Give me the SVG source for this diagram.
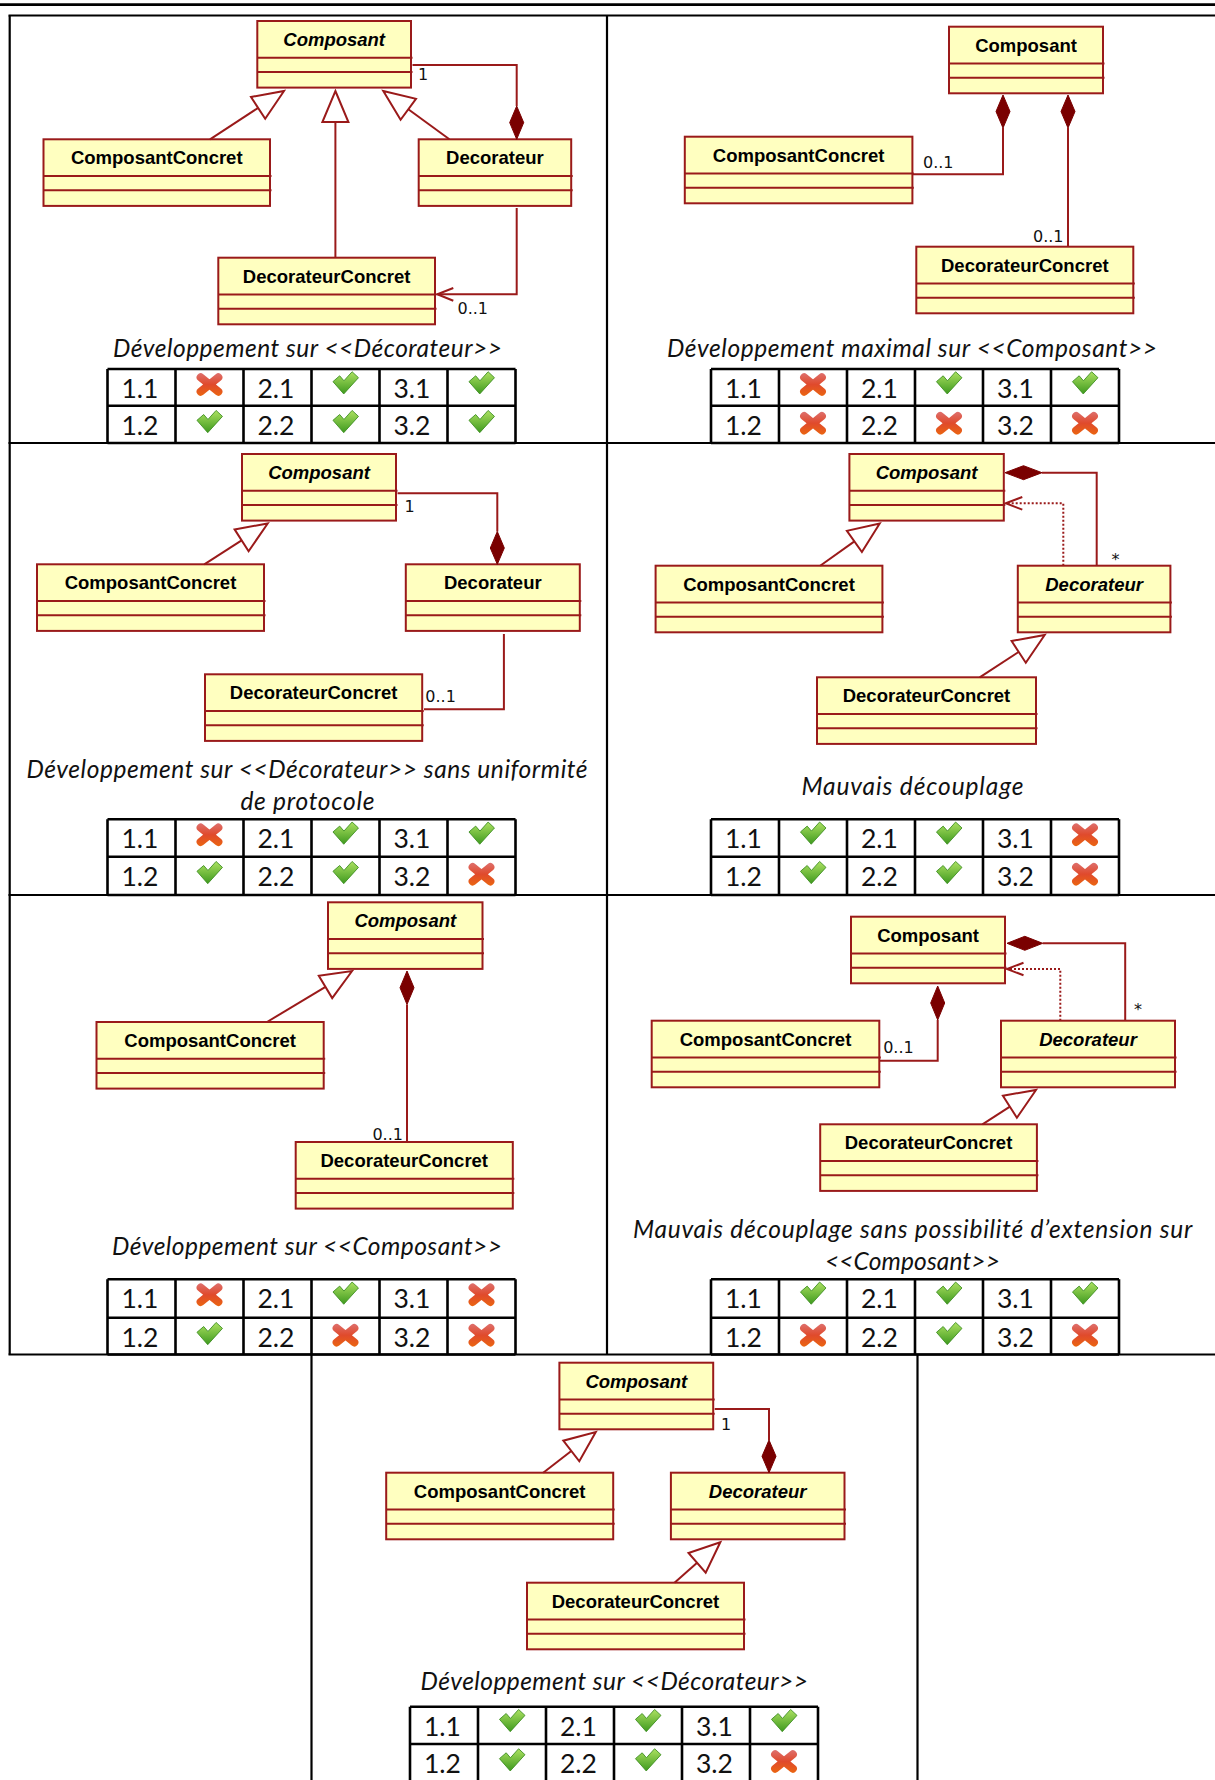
<svg xmlns="http://www.w3.org/2000/svg" width="1215" height="1780" viewBox="0 0 1215 1780">
<style>
.box{fill:#FFFFC0;stroke:#9A1A1A;stroke-width:2}
.sep{stroke:#9A1A1A;stroke-width:2}
.name{font-family:"Liberation Sans",Arial,sans-serif;font-weight:bold;font-size:18.5px;text-anchor:middle;fill:#000}
.abs{font-style:italic}
.conn{fill:none;stroke:#9A1A1A;stroke-width:2}
.tri{fill:#FFFFFF;stroke:#9A1A1A;stroke-width:2;stroke-linejoin:miter}
.dia{fill:#7A0000;stroke:#7A0000;stroke-width:1}
.dep{fill:none;stroke:#9A1A1A;stroke-width:2;stroke-dasharray:2 2}
.mult{font-family:"DejaVu Sans",sans-serif;font-size:16px;fill:#111}
.cap{font-family:Lato,"Open Sans",sans-serif;font-style:italic;font-size:24.5px;text-anchor:middle;fill:#111}
.grid{stroke:#000;stroke-width:2.2;fill:none}
.mt{stroke:#000;stroke-width:2.6;fill:none}
.num{font-family:Lato,"Open Sans",sans-serif;font-size:26.5px;fill:#111}
</style>
<defs>
<linearGradient id="gCheck" x1="0" y1="-11" x2="0" y2="9" gradientUnits="userSpaceOnUse"><stop offset="0" stop-color="#A9DF5F"/><stop offset="1" stop-color="#3C981D"/></linearGradient>
<linearGradient id="gCross" x1="0" y1="-10" x2="0" y2="10" gradientUnits="userSpaceOnUse"><stop offset="0" stop-color="#DE6E6A"/><stop offset="0.5" stop-color="#E04A2C"/><stop offset="1" stop-color="#EA6412"/></linearGradient>
<g id="ok"><polygon transform="scale(1.1)" points="-11.4,-2.6 -5.3,-7.9 -1.4,-3.4 6,-11.6 11.8,-6.2 -1.6,8.6" fill="url(#gCheck)" stroke="#3E8E22" stroke-width="0.8" stroke-linejoin="round"/></g>
<g id="ko"><path transform="scale(1.1)" d="M-8,-6.5 L8,6.5 M8,-6.5 L-8,6.5" fill="none" stroke="url(#gCross)" stroke-width="7.4" stroke-linecap="round"/></g>
</defs>
<rect width="1215" height="1780" fill="#FFFFFF"/>

<g id="page-grid" class="grid">
<line x1="0" y1="4.7" x2="1215" y2="4.7" stroke-width="2.7"/>
<line x1="8.5" y1="15.5" x2="1215" y2="15.5"/>
<line x1="9.7" y1="15.5" x2="9.7" y2="1354.5"/>
<line x1="607" y1="15.5" x2="607" y2="1354.5"/>
<line x1="8.5" y1="443" x2="1215" y2="443"/>
<line x1="8.5" y1="895" x2="1215" y2="895"/>
<line x1="8.5" y1="1354.5" x2="1215" y2="1354.5"/>
<line x1="311.5" y1="1354.5" x2="311.5" y2="1780"/>
<line x1="917.5" y1="1354.5" x2="917.5" y2="1780"/>
</g>

<!-- ===== Panel 1 ===== -->
<g id="p1-composant" transform="translate(257.3,21)"><rect class="box" width="153.7" height="66.6"/><line class="sep" x1="0" y1="36.7" x2="155.2" y2="36.7"/><line class="sep" x1="0" y1="51" x2="155.2" y2="51"/><text class="name abs" x="76.85" y="25">Composant</text></g>
<g id="p1-composantconcret" transform="translate(43.5,139.3)"><rect class="box" width="226.5" height="66.6"/><line class="sep" x1="0" y1="36.7" x2="228" y2="36.7"/><line class="sep" x1="0" y1="51" x2="228" y2="51"/><text class="name" x="113.25" y="25">ComposantConcret</text></g>
<g id="p1-decorateur" transform="translate(418.7,139.3)"><rect class="box" width="152.5" height="66.6"/><line class="sep" x1="0" y1="36.7" x2="154" y2="36.7"/><line class="sep" x1="0" y1="51" x2="154" y2="51"/><text class="name" x="76.25" y="25">Decorateur</text></g>
<g id="p1-decorateurconcret" transform="translate(218.3,257.7)"><rect class="box" width="216.7" height="66.6"/><line class="sep" x1="0" y1="36.7" x2="218.2" y2="36.7"/><line class="sep" x1="0" y1="51" x2="218.2" y2="51"/><text class="name" x="108.35" y="25">DecorateurConcret</text></g>

<!-- ===== Panel 2 ===== -->
<g id="p2-composant" transform="translate(949,26.7)"><rect class="box" width="154" height="66.6"/><line class="sep" x1="0" y1="36.7" x2="155.5" y2="36.7"/><line class="sep" x1="0" y1="51" x2="155.5" y2="51"/><text class="name" x="77" y="25">Composant</text></g>
<g id="p2-composantconcret" transform="translate(684.8,136.7)"><rect class="box" width="227.6" height="66.6"/><line class="sep" x1="0" y1="36.7" x2="229" y2="36.7"/><line class="sep" x1="0" y1="51" x2="229" y2="51"/><text class="name" x="113.8" y="25">ComposantConcret</text></g>
<g id="p2-decorateurconcret" transform="translate(916.3,246.7)"><rect class="box" width="217" height="66.6"/><line class="sep" x1="0" y1="36.7" x2="218.5" y2="36.7"/><line class="sep" x1="0" y1="51" x2="218.5" y2="51"/><text class="name" x="108.5" y="25">DecorateurConcret</text></g>

<!-- ===== Panel 3 ===== -->
<g id="p3-composant" transform="translate(242,454)"><rect class="box" width="154" height="66.6"/><line class="sep" x1="0" y1="36.7" x2="155.5" y2="36.7"/><line class="sep" x1="0" y1="51" x2="155.5" y2="51"/><text class="name abs" x="77" y="25">Composant</text></g>
<g id="p3-composantconcret" transform="translate(37,564.3)"><rect class="box" width="227" height="66.6"/><line class="sep" x1="0" y1="36.7" x2="228.5" y2="36.7"/><line class="sep" x1="0" y1="51" x2="228.5" y2="51"/><text class="name" x="113.5" y="25">ComposantConcret</text></g>
<g id="p3-decorateur" transform="translate(405.8,564.3)"><rect class="box" width="174" height="66.6"/><line class="sep" x1="0" y1="36.7" x2="175.5" y2="36.7"/><line class="sep" x1="0" y1="51" x2="175.5" y2="51"/><text class="name" x="87" y="25">Decorateur</text></g>
<g id="p3-decorateurconcret" transform="translate(205,674.3)"><rect class="box" width="217.2" height="66.6"/><line class="sep" x1="0" y1="36.7" x2="218.7" y2="36.7"/><line class="sep" x1="0" y1="51" x2="218.7" y2="51"/><text class="name" x="108.6" y="25">DecorateurConcret</text></g>

<!-- ===== Panel 4 ===== -->
<g id="p4-composant" transform="translate(849.4,454)"><rect class="box" width="154.4" height="66.6"/><line class="sep" x1="0" y1="36.7" x2="155.9" y2="36.7"/><line class="sep" x1="0" y1="51" x2="155.9" y2="51"/><text class="name abs" x="77.2" y="25">Composant</text></g>
<g id="p4-composantconcret" transform="translate(655.6,565.7)"><rect class="box" width="226.8" height="66.6"/><line class="sep" x1="0" y1="36.7" x2="228.3" y2="36.7"/><line class="sep" x1="0" y1="51" x2="228.3" y2="51"/><text class="name" x="113.4" y="25">ComposantConcret</text></g>
<g id="p4-decorateur" transform="translate(1017.8,565.7)"><rect class="box" width="152.6" height="66.6"/><line class="sep" x1="0" y1="36.7" x2="154.1" y2="36.7"/><line class="sep" x1="0" y1="51" x2="154.1" y2="51"/><text class="name abs" x="76.3" y="25">Decorateur</text></g>
<g id="p4-decorateurconcret" transform="translate(817,677.3)"><rect class="box" width="219" height="66.6"/><line class="sep" x1="0" y1="36.7" x2="220.5" y2="36.7"/><line class="sep" x1="0" y1="51" x2="220.5" y2="51"/><text class="name" x="109.5" y="25">DecorateurConcret</text></g>

<!-- ===== Panel 5 ===== -->
<g id="p5-composant" transform="translate(328,902.3)"><rect class="box" width="154.5" height="66.6"/><line class="sep" x1="0" y1="36.7" x2="156" y2="36.7"/><line class="sep" x1="0" y1="51" x2="156" y2="51"/><text class="name abs" x="77.25" y="25">Composant</text></g>
<g id="p5-composantconcret" transform="translate(96.5,1022)"><rect class="box" width="227.2" height="66.6"/><line class="sep" x1="0" y1="36.7" x2="228.7" y2="36.7"/><line class="sep" x1="0" y1="51" x2="228.7" y2="51"/><text class="name" x="113.6" y="25">ComposantConcret</text></g>
<g id="p5-decorateurconcret" transform="translate(295.7,1142)"><rect class="box" width="217.1" height="66.6"/><line class="sep" x1="0" y1="36.7" x2="218.6" y2="36.7"/><line class="sep" x1="0" y1="51" x2="218.6" y2="51"/><text class="name" x="108.55" y="25">DecorateurConcret</text></g>

<!-- ===== Panel 6 ===== -->
<g id="p6-composant" transform="translate(851,916.7)"><rect class="box" width="154" height="66.6"/><line class="sep" x1="0" y1="36.7" x2="155.5" y2="36.7"/><line class="sep" x1="0" y1="51" x2="155.5" y2="51"/><text class="name" x="77" y="25">Composant</text></g>
<g id="p6-composantconcret" transform="translate(651.7,1020.7)"><rect class="box" width="227.6" height="66.6"/><line class="sep" x1="0" y1="36.7" x2="229.1" y2="36.7"/><line class="sep" x1="0" y1="51" x2="229.1" y2="51"/><text class="name" x="113.8" y="25">ComposantConcret</text></g>
<g id="p6-decorateur" transform="translate(1001,1020.7)"><rect class="box" width="174" height="66.6"/><line class="sep" x1="0" y1="36.7" x2="175.5" y2="36.7"/><line class="sep" x1="0" y1="51" x2="175.5" y2="51"/><text class="name abs" x="87" y="25">Decorateur</text></g>
<g id="p6-decorateurconcret" transform="translate(820.2,1124.3)"><rect class="box" width="216.7" height="66.6"/><line class="sep" x1="0" y1="36.7" x2="218.2" y2="36.7"/><line class="sep" x1="0" y1="51" x2="218.2" y2="51"/><text class="name" x="108.35" y="25">DecorateurConcret</text></g>

<!-- ===== Panel 7 ===== -->
<g id="p7-composant" transform="translate(559.4,1362.7)"><rect class="box" width="153.8" height="66.6"/><line class="sep" x1="0" y1="36.7" x2="155.3" y2="36.7"/><line class="sep" x1="0" y1="51" x2="155.3" y2="51"/><text class="name abs" x="76.9" y="25">Composant</text></g>
<g id="p7-composantconcret" transform="translate(386.2,1472.7)"><rect class="box" width="227" height="66.6"/><line class="sep" x1="0" y1="36.7" x2="228.5" y2="36.7"/><line class="sep" x1="0" y1="51" x2="228.5" y2="51"/><text class="name" x="113.5" y="25">ComposantConcret</text></g>
<g id="p7-decorateur" transform="translate(670.9,1472.7)"><rect class="box" width="173.6" height="66.6"/><line class="sep" x1="0" y1="36.7" x2="175.1" y2="36.7"/><line class="sep" x1="0" y1="51" x2="175.1" y2="51"/><text class="name abs" x="86.8" y="25">Decorateur</text></g>
<g id="p7-decorateurconcret" transform="translate(527,1582.7)"><rect class="box" width="217" height="66.6"/><line class="sep" x1="0" y1="36.7" x2="218.5" y2="36.7"/><line class="sep" x1="0" y1="51" x2="218.5" y2="51"/><text class="name" x="108.5" y="25">DecorateurConcret</text></g>

<!-- ===== Connectors ===== -->
<g id="connectors">
 <g id="p1-connectors">
  <path class="conn" d="M210,139.3 L258.1,107.9"/><polygon class="tri" points="284,91 265.2,118.8 251,97"/>
  <path class="conn" d="M335.4,257.7 V122"/><polygon class="tri" points="335.4,91 348.4,122 322.4,122"/>
  <path class="conn" d="M449.4,139.3 L408.3,109.3"/><polygon class="tri" points="383.3,91 416,98.8 400.6,119.8"/>
  <path class="conn" d="M412.5,65 H516.7 V106"/><polygon class="dia" points="516.7,106 523.7,122.6 516.7,139.3 509.7,122.6"/>
  <path class="conn" d="M516.7,208 V294.3 H437.3"/><path class="conn" d="M453.3,288 L437.3,294.3 L453.3,300.7"/>
  <text class="mult" x="418" y="80">1</text>
  <text class="mult" x="457.5" y="314.3">0..1</text>
 </g>
 <g id="p2-connectors">
  <polygon class="dia" points="1003,95 1010,111.5 1003,128 996,111.5"/><path class="conn" d="M1003,128 V174.3 H912.4"/>
  <polygon class="dia" points="1068,95 1075,111.5 1068,128 1061,111.5"/><path class="conn" d="M1068,128 V246.7"/>
  <text class="mult" x="923" y="168">0..1</text>
  <text class="mult" x="1033" y="241.7">0..1</text>
 </g>
 <g id="p3-connectors">
  <path class="conn" d="M204.3,564.3 L241.6,540.3"/><polygon class="tri" points="267.7,523.5 248.6,551.2 234.6,529.4"/>
  <path class="conn" d="M397.5,493.3 H497.3 V531.5"/><polygon class="dia" points="497.3,531.5 504.3,548 497.3,564.3 490.3,548"/>
  <path class="conn" d="M503.9,634 V709.3 H424"/>
  <text class="mult" x="404.5" y="511.7">1</text>
  <text class="mult" x="425.3" y="701.7">0..1</text>
 </g>
 <g id="p4-connectors">
  <path class="conn" d="M820.2,565.7 L854.4,541.4"/><polygon class="tri" points="879.7,523.5 861.9,552 846.9,530.8"/>
  <path class="conn" d="M979.7,677.3 L1018.7,651.9"/><polygon class="tri" points="1044.7,635 1025.8,662.8 1011.6,641"/>
  <polygon class="dia" points="1005,472.7 1023.5,465.7 1042,472.7 1023.5,479.7"/><path class="conn" d="M1042,472.7 H1096.7 V565.7"/>
  <path class="dep" d="M1063.3,565.7 V503.3 H1007"/><path class="conn" d="M1022.3,497 L1005.7,503.3 L1022.3,509.6"/>
  <text class="mult" x="1111.6" y="565">*</text>
 </g>
 <g id="p5-connectors">
  <path class="conn" d="M267,1022 L325.5,986.9"/><polygon class="tri" points="352.1,971 332.2,998.1 318.8,975.7"/>
  <polygon class="dia" points="407,971 414,987.7 407,1004.5 400,987.7"/><path class="conn" d="M407,1004.5 V1142"/>
  <text class="mult" x="372.4" y="1140">0..1</text>
 </g>
 <g id="p6-connectors">
  <polygon class="dia" points="1007,943.3 1024.8,936.3 1042.7,943.3 1024.8,950.3"/><path class="conn" d="M1042.7,943.3 H1125.2 V1020.7"/>
  <path class="dep" d="M1060.3,1020.7 V969 H1008"/><path class="conn" d="M1023.5,962.7 L1007,969 L1023.5,975.3"/>
  <polygon class="dia" points="937.7,986 944.7,1003 937.7,1020 930.7,1003"/><path class="conn" d="M937.7,1020 V1060.7 H879.3"/>
  <path class="conn" d="M982.4,1124.3 L1009.9,1106.7"/><polygon class="tri" points="1036,1090 1016.9,1117.7 1002.9,1095.7"/>
  <text class="mult" x="1134" y="1015">*</text>
  <text class="mult" x="883.2" y="1052.7">0..1</text>
 </g>
 <g id="p7-connectors">
  <path class="conn" d="M543.2,1472.7 L571.3,1451"/><polygon class="tri" points="595.8,1432 579.3,1461.3 563.3,1440.7"/>
  <path class="conn" d="M674.5,1582.7 L697.1,1562.8"/><polygon class="tri" points="720.3,1542.3 705.7,1572.6 688.5,1553"/>
  <path class="conn" d="M714.7,1409 H769 V1440"/><polygon class="dia" points="769,1440 776,1456.3 769,1472.7 762,1456.3"/>
  <text class="mult" x="721" y="1430">1</text>
 </g>
</g>

<!-- ===== Captions ===== -->
<g id="captions">
 <text class="cap" x="307.5" y="357" textLength="389">Développement sur &lt;&lt;Décorateur&gt;&gt;</text>
 <text class="cap" x="912" y="356.7" textLength="490">Développement maximal sur &lt;&lt;Composant&gt;&gt;</text>
 <text class="cap" x="307" y="778.3" textLength="561">Développement sur &lt;&lt;Décorateur&gt;&gt; sans uniformité</text>
 <text class="cap" x="307.4" y="810" textLength="134">de protocole</text>
 <text class="cap" x="912.4" y="795" textLength="222">Mauvais découplage</text>
 <text class="cap" x="307" y="1255" textLength="390">Développement sur &lt;&lt;Composant&gt;&gt;</text>
 <text class="cap" x="912.7" y="1238.3" textLength="559.5">Mauvais découplage sans possibilité d’extension sur</text>
 <text class="cap" x="912.4" y="1270" textLength="175">&lt;&lt;Composant&gt;&gt;</text>
 <text class="cap" x="614.3" y="1690" textLength="387.4">Développement sur &lt;&lt;Décorateur&gt;&gt;</text>
</g>

<!-- ===== Score tables ===== -->
<g id="t1" transform="translate(107.5,369)">
 <path class="mt" d="M0,0 H408 M0,36.7 H408 M0,74 H408 M0,0 V74 M68,0 V74 M136,0 V74 M204,0 V74 M272,0 V74 M340,0 V74 M408,0 V74"/>
 <text class="num" x="14" y="29">1.1</text><text class="num" x="150" y="29">2.1</text><text class="num" x="286" y="29">3.1</text>
 <text class="num" x="14" y="66">1.2</text><text class="num" x="150" y="66">2.2</text><text class="num" x="286" y="66">3.2</text>
 <use href="#ko" x="102" y="15.5"/><use href="#ok" x="238" y="15.5"/><use href="#ok" x="374" y="15.5"/>
 <use href="#ok" x="102" y="54.2"/><use href="#ok" x="238" y="54.2"/><use href="#ok" x="374" y="54.2"/>
</g>
<g id="t2" transform="translate(711,369)">
 <path class="mt" d="M0,0 H408 M0,36.7 H408 M0,74 H408 M0,0 V74 M68,0 V74 M136,0 V74 M204,0 V74 M272,0 V74 M340,0 V74 M408,0 V74"/>
 <text class="num" x="14" y="29">1.1</text><text class="num" x="150" y="29">2.1</text><text class="num" x="286" y="29">3.1</text>
 <text class="num" x="14" y="66">1.2</text><text class="num" x="150" y="66">2.2</text><text class="num" x="286" y="66">3.2</text>
 <use href="#ko" x="102" y="15.5"/><use href="#ok" x="238" y="15.5"/><use href="#ok" x="374" y="15.5"/>
 <use href="#ko" x="102" y="54.2"/><use href="#ko" x="238" y="54.2"/><use href="#ko" x="374" y="54.2"/>
</g>
<g id="t3" transform="translate(107.5,819.3)">
 <path class="mt" d="M0,0 H408 M0,37.4 H408 M0,75.7 H408 M0,0 V75.7 M68,0 V75.7 M136,0 V75.7 M204,0 V75.7 M272,0 V75.7 M340,0 V75.7 M408,0 V75.7"/>
 <text class="num" x="14" y="29">1.1</text><text class="num" x="150" y="29">2.1</text><text class="num" x="286" y="29">3.1</text>
 <text class="num" x="14" y="66.7">1.2</text><text class="num" x="150" y="66.7">2.2</text><text class="num" x="286" y="66.7">3.2</text>
 <use href="#ko" x="102" y="15.5"/><use href="#ok" x="238" y="15.5"/><use href="#ok" x="374" y="15.5"/>
 <use href="#ok" x="102" y="54.9"/><use href="#ok" x="238" y="54.9"/><use href="#ko" x="374" y="54.9"/>
</g>
<g id="t4" transform="translate(711,819.3)">
 <path class="mt" d="M0,0 H408 M0,37.4 H408 M0,75.7 H408 M0,0 V75.7 M68,0 V75.7 M136,0 V75.7 M204,0 V75.7 M272,0 V75.7 M340,0 V75.7 M408,0 V75.7"/>
 <text class="num" x="14" y="29">1.1</text><text class="num" x="150" y="29">2.1</text><text class="num" x="286" y="29">3.1</text>
 <text class="num" x="14" y="66.7">1.2</text><text class="num" x="150" y="66.7">2.2</text><text class="num" x="286" y="66.7">3.2</text>
 <use href="#ok" x="102" y="15.5"/><use href="#ok" x="238" y="15.5"/><use href="#ko" x="374" y="15.5"/>
 <use href="#ok" x="102" y="54.9"/><use href="#ok" x="238" y="54.9"/><use href="#ko" x="374" y="54.9"/>
</g>
<g id="t5" transform="translate(107.5,1279.3)">
 <path class="mt" d="M0,0 H408 M0,38.4 H408 M0,75.2 H408 M0,0 V75.2 M68,0 V75.2 M136,0 V75.2 M204,0 V75.2 M272,0 V75.2 M340,0 V75.2 M408,0 V75.2"/>
 <text class="num" x="14" y="29">1.1</text><text class="num" x="150" y="29">2.1</text><text class="num" x="286" y="29">3.1</text>
 <text class="num" x="14" y="67.5">1.2</text><text class="num" x="150" y="67.5">2.2</text><text class="num" x="286" y="67.5">3.2</text>
 <use href="#ko" x="102" y="15.5"/><use href="#ok" x="238" y="15.5"/><use href="#ko" x="374" y="15.5"/>
 <use href="#ok" x="102" y="55.9"/><use href="#ko" x="238" y="55.9"/><use href="#ko" x="374" y="55.9"/>
</g>
<g id="t6" transform="translate(711,1279.3)">
 <path class="mt" d="M0,0 H408 M0,38.4 H408 M0,75.2 H408 M0,0 V75.2 M68,0 V75.2 M136,0 V75.2 M204,0 V75.2 M272,0 V75.2 M340,0 V75.2 M408,0 V75.2"/>
 <text class="num" x="14" y="29">1.1</text><text class="num" x="150" y="29">2.1</text><text class="num" x="286" y="29">3.1</text>
 <text class="num" x="14" y="67.5">1.2</text><text class="num" x="150" y="67.5">2.2</text><text class="num" x="286" y="67.5">3.2</text>
 <use href="#ok" x="102" y="15.5"/><use href="#ok" x="238" y="15.5"/><use href="#ok" x="374" y="15.5"/>
 <use href="#ko" x="102" y="55.9"/><use href="#ok" x="238" y="55.9"/><use href="#ko" x="374" y="55.9"/>
</g>
<g id="t7" transform="translate(410,1706.7)">
 <path class="mt" d="M0,0 H408 M0,37.3 H408 M0,0 V80 M68,0 V80 M136,0 V80 M204,0 V80 M272,0 V80 M340,0 V80 M408,0 V80"/>
 <text class="num" x="14" y="29">1.1</text><text class="num" x="150" y="29">2.1</text><text class="num" x="286" y="29">3.1</text>
 <text class="num" x="14" y="66.5">1.2</text><text class="num" x="150" y="66.5">2.2</text><text class="num" x="286" y="66.5">3.2</text>
 <use href="#ok" x="102" y="15.5"/><use href="#ok" x="238" y="15.5"/><use href="#ok" x="374" y="15.5"/>
 <use href="#ok" x="102" y="54.8"/><use href="#ok" x="238" y="54.8"/><use href="#ko" x="374" y="54.8"/>
</g>
</svg>
